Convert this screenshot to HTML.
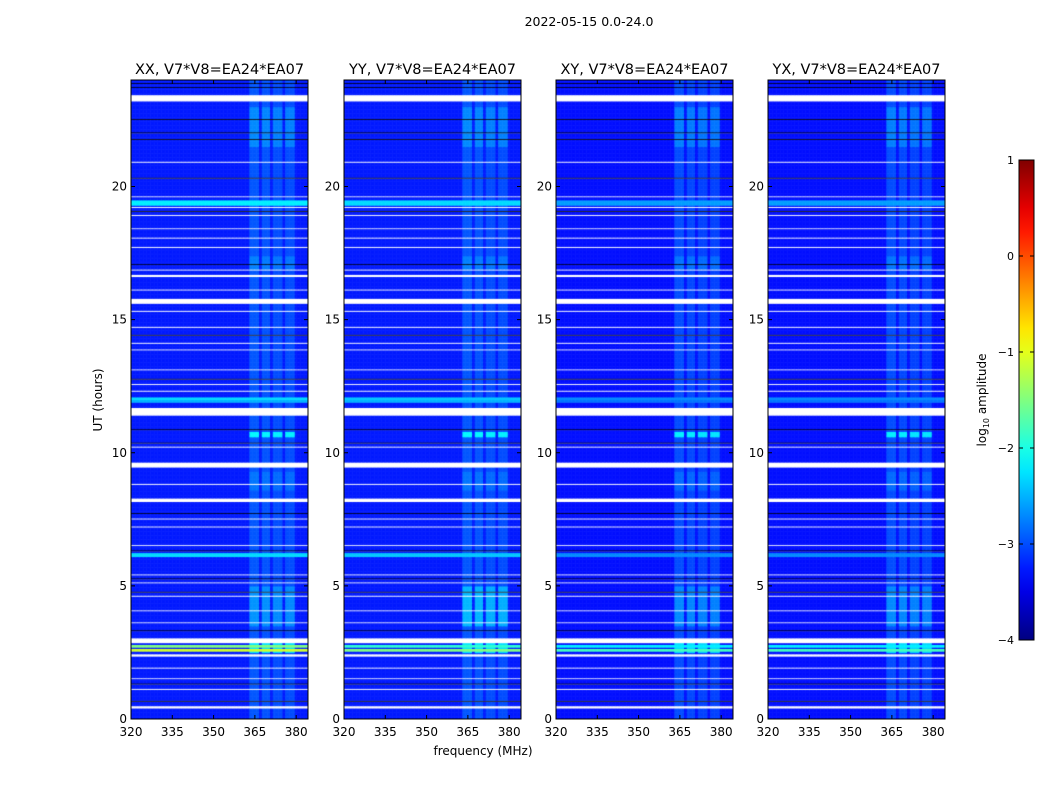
<!DOCTYPE html>
<html><head><meta charset="utf-8">
<style>
body{margin:0;background:#fff;width:1050px;height:800px;overflow:hidden;font-family:"DejaVu Sans","Liberation Sans",sans-serif}
#wrap{position:relative;width:1050px;height:800px}
canvas{position:absolute}
svg{position:absolute;left:0;top:0}
</style></head><body>
<div id="wrap">
<svg id="svg" width="1050" height="800"></svg>
</div>
<script>
// ---- data ----
const panelTitles = ["XX, V7*V8=EA24*EA07","YY, V7*V8=EA24*EA07","XY, V7*V8=EA24*EA07","YX, V7*V8=EA24*EA07"];
const xTicks = [320,335,350,365,380];
const yTicks = [0,5,10,15,20];
const cbTicks = [1,0,-1,-2,-3,-4];
const cbTickLabels = ["1","0","\u22121","\u22122","\u22123","\u22124"];
const flagRows = [[0.4,0.5],[1.1,1.15],[1.5,1.55],[1.9,1.95],[2.35,2.45],[2.85,3.05],[3.6,3.65],[4.05,4.1],[4.6,4.65],[5.1,5.15],[5.4,5.45],[6.5,6.55],[7.2,7.25],[7.5,7.55],[8.15,8.3],[8.8,8.85],[9.45,9.65],[10.2,10.25],[11.4,11.7],[12.3,12.35],[12.55,12.6],[13.1,13.15],[13.85,13.9],[14.1,14.15],[14.7,14.75],[15.3,15.35],[15.6,15.8],[16.1,16.15],[16.6,16.7],[16.85,16.9],[17.7,17.75],[18.05,18.1],[18.4,18.45],[18.9,18.95],[19.2,19.25],[19.6,19.65],[20.9,20.95],[23.2,23.45]];
const darkRows = [[0.65,0.7],[1.3,1.35],[3.3,3.35],[4.75,4.8],[5.25,5.3],[6.3,6.35],[7.7,7.75],[10.35,10.4],[10.85,10.9],[12.75,12.8],[14.4,14.45],[17.05,17.1],[19.05,19.1],[20.3,20.35],[21.75,21.8],[22.0,22.05],[22.5,22.55],[23.7,23.75],[23.85,23.9]];
const bandStart = [363,367.5,371.5,376];
const bandEnd   = [366.5,370.5,375,379.5];
const bandAmp   = [0.3,0.28,0.25,0.25];
const bandTimeStart = [2.5,3.5,10.6,16.9,21.5,8.6];
const bandTimeEnd   = [2.9,5.0,10.8,17.4,23.0,9.3];
const bandTimeBoost = [0.7,0.3,0.8,0.2,0.25,0.15];
const rowStart = [19.3,12.0,6.1,2.55,2.7,11.9];
const rowEnd   = [19.5,12.1,6.25,2.65,2.8,12.0];
const rowVal   = [[-2.2,-2.3,-2.6,-2.6],[-2.3,-2.4,-2.7,-2.7],[-2.3,-2.4,-2.7,-2.7],[-1.1,-1.5,-1.8,-1.8],[-1.5,-1.9,-2.2,-2.2],[-2.5,-2.5,-2.8,-2.8]];
const baseLevel = [-3.25,-3.25,-3.3,-3.3];

const panelX = [131,344,556,768];
const pW = 177, pTop = 80, pBot = 719;
const fMin = 320, fMax = 384.3, tMin = 0, tMax = 24;
function xs(px,f){return px + (f-fMin)/(fMax-fMin)*pW;}
function ys(t){return pBot - (t-tMin)/(tMax-tMin)*(pBot-pTop);}
function jet(v){const x=Math.max(0,Math.min(1,(v+4)/5));
 const c=k=>Math.max(0,Math.min(1,1.5-Math.abs(4*x-k)));
 return `rgb(${Math.round(255*c(3))},${Math.round(255*c(2))},${Math.round(255*c(1))})`;}
function inR(t,arr){return arr.some(r=>t>=r[0]&&t<r[1]);}
function value(p,t,f){
 let v = baseLevel[p];
 for(let i=0;i<rowStart.length;i++) if(t>=rowStart[i]&&t<rowEnd[i]) v=Math.max(v,rowVal[i][p]);
 for(let b=0;b<bandStart.length;b++) if(f>=bandStart[b]&&f<bandEnd[b]){
   let a=bandAmp[b];
   for(let k=0;k<bandTimeStart.length;k++) if(t>=bandTimeStart[k]&&t<bandTimeEnd[k]) a+=bandTimeBoost[k]*(p==1&&k==1?1.6:1);
   v=Math.max(v,baseLevel[p]+a);
 }
 return v;
}
const NS="http://www.w3.org/2000/svg";
const svg=document.getElementById('svg');
function el(tag,attrs,txt){const e=document.createElementNS(NS,tag);for(const k in attrs)e.setAttribute(k,attrs[k]);if(txt!==undefined)e.textContent=txt;svg.appendChild(e);return e;}

const dt=0.05, df=0.5;
panelX.forEach((px,p)=>{
 const cv=document.createElement('canvas');
 cv.width=pW;cv.height=pBot-pTop;cv.style.left=px+'px';cv.style.top=pTop+'px';
 
 
 document.getElementById('wrap').insertBefore(cv,svg);
 const ctx=cv.getContext('2d');
 for(let t=tMin;t<tMax;t+=dt){
  const y0=ys(t+dt)-pTop,y1=ys(t)-pTop;
  const tc=t+dt/2;
  if(inR(tc,flagRows)){ctx.fillStyle='#fff';ctx.fillRect(0,y0,pW,y1-y0);continue;}
  if(inR(tc,darkRows)){ctx.fillStyle='#000';ctx.fillRect(0,y0,pW,y1-y0);continue;}
  for(let f=fMin;f<fMax;f+=df){
   const x0=xs(0,f),x1=xs(0,f+df);
   ctx.fillStyle=jet(value(p,tc,f+df/2));
   ctx.fillRect(x0,y0,x1-x0+0.5,y1-y0+0.5);
  }
 }
 const fr=el('rect',{x:px,y:pTop,width:pW,height:pBot-pTop,fill:'none',stroke:'#000','stroke-width':1});
 
 const tt=el('text',{x:px+pW/2,y:74,'text-anchor':'middle','font-size':14.5},panelTitles[p]);
 
 xTicks.forEach(v=>{const x=xs(px,v);
  el('line',{x1:x,x2:x,y1:pBot,y2:pBot-4,stroke:'#000'});
  el('line',{x1:x,x2:x,y1:pTop,y2:pTop+4,stroke:'#000'});
  const l=el('text',{x:x,y:736,'text-anchor':'middle','font-size':12},v);
  
 });
 yTicks.forEach(v=>{const y=ys(v);
  el('line',{x1:px,x2:px+4,y1:y,y2:y,stroke:'#000'});
  el('line',{x1:px+pW,x2:px+pW-4,y1:y,y2:y,stroke:'#000'});
  const l=el('text',{x:px-4,y:y+4,'text-anchor':'end','font-size':12},v);
  
 });
});
let e;
e=el('text',{x:589,y:26,'text-anchor':'middle','font-size':12.5},'2022-05-15 0.0-24.0');

e=el('text',{x:483,y:755,'text-anchor':'middle','font-size':12},'frequency (MHz)');

e=el('text',{x:102,y:400,'text-anchor':'middle','font-size':12,transform:'rotate(-90 102 400)'},'UT (hours)');

const cbX=1019,cbW=15,cbTop=160,cbBot=640;
const defs=el('defs',{});
const g=document.createElementNS(NS,'linearGradient');g.setAttribute('id','jet');g.setAttribute('x1',0);g.setAttribute('y1',1);g.setAttribute('x2',0);g.setAttribute('y2',0);
for(let i=0;i<=20;i++){const s=document.createElementNS(NS,'stop');s.setAttribute('offset',i/20);s.setAttribute('stop-color',jet(-4+5*i/20));g.appendChild(s);}
defs.appendChild(g);
e=el('rect',{x:cbX,y:cbTop,width:cbW,height:cbBot-cbTop,fill:'url(#jet)',stroke:'#000'});

cbTicks.forEach((v,i)=>{const y=cbBot-(v+4)/5*(cbBot-cbTop);
 el('line',{x1:cbX,x2:cbX+4,y1:y,y2:y,stroke:'#000'});
 el('line',{x1:cbX+cbW,x2:cbX+cbW-4,y1:y,y2:y,stroke:'#000'});
 const l=el('text',{x:cbX-5,y:y+4,'text-anchor':'end','font-size':11},cbTickLabels[i]);
 
});
e=el('text',{x:986,y:400,'text-anchor':'middle','font-size':12,transform:'rotate(-90 986 400)'});
e.innerHTML='log<tspan font-size="8" dy="3">10</tspan><tspan dy="-3"> amplitude</tspan>';

</script>
</body></html>
